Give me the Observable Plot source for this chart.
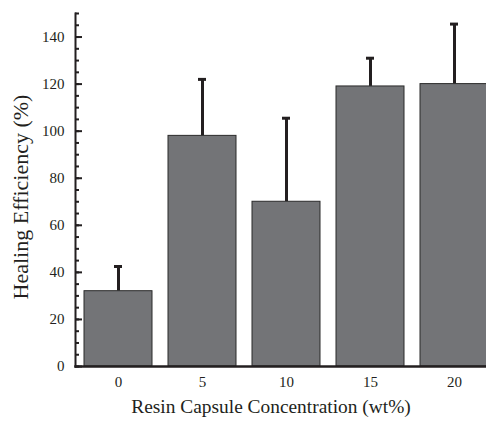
<!DOCTYPE html>
<html><head><meta charset="utf-8">
<script src="https://cdn.jsdelivr.net/npm/d3@7"></script>
<script src="https://cdn.jsdelivr.net/npm/@observablehq/plot@0.6"></script>
<style>body{margin:0;background:#fff;overflow:hidden}</style>
</head><body><div id="chart"></div>
<script>
const concentrations = ["0", "5", "10", "15", "20"];
const efficiency = [32, 98, 70, 119, 120];
const errors = [10.5, 24, 35.5, 12, 25.5];
const yTicks = [0, 20, 40, 60, 80, 100, 120, 140];
const yMinorTicks = d3.range(0, 151, 5);
const xTitle = "Resin Capsule Concentration (wt%)";
const yTitle = "Healing Efficiency (%)";

const data = concentrations.map((c, i) => ({c, v: efficiency[i], top: efficiency[i] + errors[i]}));
const ink = "#231f20";
const font = "'Liberation Serif', 'Times New Roman', serif";
const W = 486, ML = 75;

const chart = Plot.plot({
  width: W,
  height: 422,
  marginTop: 13,
  marginBottom: 56,
  marginLeft: ML,
  marginRight: 0,
  style: {fontFamily: font, color: ink, background: "#fff", overflow: "hidden"},
  x: {type: "band", domain: concentrations, range: [75, 496.5], paddingInner: 0.19, paddingOuter: 0.095, axis: null},
  y: {domain: [0, 150], axis: null},
  marks: [
    Plot.ruleX(data, {x: "c", y1: "v", y2: "top", stroke: ink, strokeWidth: 3}),
    Plot.barY(data, {x: "c", y: "v", fill: "#737477", stroke: "#2b2b2b", strokeWidth: 1}),
    Plot.tickY(data, {x: "c", y: "top", stroke: ink, strokeWidth: 3, insetLeft: 30, insetRight: 30}),
    Plot.ruleY(yMinorTicks, {y: d => d, stroke: ink, strokeWidth: 2, insetRight: W - ML - 4}),
    Plot.ruleY(yTicks, {y: d => d, stroke: ink, strokeWidth: 2, insetRight: W - ML - 7}),
    Plot.text(yTicks, {y: d => d, text: d => String(d), frameAnchor: "left", textAnchor: "end", dx: -11, fontSize: 15, fontFamily: font, fill: ink}),
    Plot.text(concentrations, {x: d => d, text: d => d, frameAnchor: "bottom", textAnchor: "middle", dy: 20, fontSize: 15, fontFamily: font, fill: ink}),
    Plot.frame({anchor: "left", stroke: ink, strokeWidth: 2}),
    Plot.frame({anchor: "bottom", stroke: ink, strokeWidth: 2.5}),
    Plot.text([xTitle], {frameAnchor: "bottom", textAnchor: "middle", dx: -10, dy: 46, fontSize: 19.4, fontFamily: font, fill: ink}),
    Plot.text([yTitle], {frameAnchor: "left", textAnchor: "middle", rotate: -90, dx: -55, dy: 7, fontSize: 22, fontFamily: font, fill: ink})
  ]
});
document.getElementById("chart").append(chart);
</script>
</body></html>
